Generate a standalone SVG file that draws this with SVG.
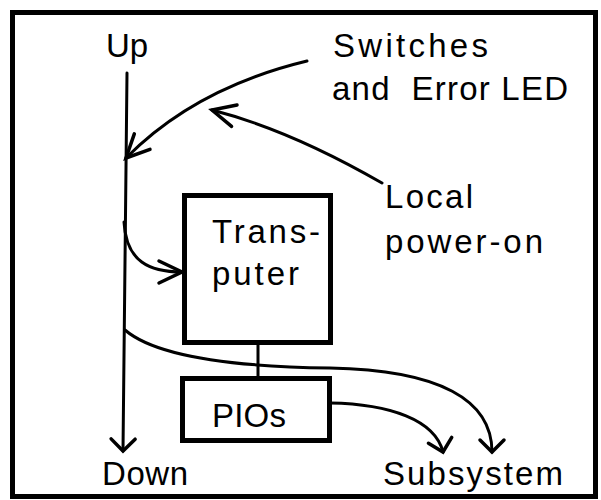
<svg xmlns="http://www.w3.org/2000/svg" width="601" height="500" viewBox="0 0 601 500">
<style>
.t{font-family:"Liberation Sans",Arial,Helvetica,sans-serif;font-size:33px;fill:#000}
.box{fill:none;stroke:#000;stroke-width:5}
.c{fill:none;stroke:#000;stroke-width:3;stroke-linecap:round}
</style>
<defs>
<marker id="big" markerUnits="userSpaceOnUse" markerWidth="40" markerHeight="40" refX="0" refY="0" viewBox="-30 -20 40 40" orient="auto" overflow="visible">
<path d="M -23 -11 L 0 0 L -23 11" fill="none" stroke="#000" stroke-width="3.5" stroke-linecap="round" stroke-linejoin="miter"/>
</marker>
<marker id="small" markerUnits="userSpaceOnUse" markerWidth="40" markerHeight="40" refX="0" refY="0" viewBox="-30 -20 40 40" orient="auto" overflow="visible">
<path d="M -12 -12 L 0 0 L -12 12" fill="none" stroke="#000" stroke-width="3.5" stroke-linecap="round" stroke-linejoin="miter"/>
</marker>
</defs>
<rect x="12.5" y="12.5" width="583" height="484" fill="#fff" stroke="#000" stroke-width="5"/>
<g id="connectors">
<path class="c" d="M 127 73 L 123 451" marker-end="url(#small)"/>
<path class="c" d="M 307 61 Q 195 88 126 158" marker-end="url(#big)"/>
<path class="c" d="M 382 183 Q 290 130 212 110" marker-end="url(#big)"/>
<path class="c" d="M 124 222 C 126 262 150 272 182 272" marker-end="url(#big)"/>
<path class="c" d="M 125 330 C 160 360 250 367 330 368 C 440 370 492 400 492 452" marker-end="url(#small)"/>
<path class="c" d="M 330 403 C 390 404 435 420 443 452" marker-end="url(#small)"/>
<path class="c" d="M 258 343 L 258 378" stroke-width="2.5"/>
</g>
<g id="up"><text class="t" x="106" y="57">Up</text></g>
<g id="down"><text class="t" x="102" y="485" textLength="86" lengthAdjust="spacing">Down</text></g>
<g id="switches">
<text class="t" x="333" y="57" textLength="155" lengthAdjust="spacing">Switches</text>
<text class="t" x="332" y="100" textLength="236" lengthAdjust="spacing" xml:space="preserve" style="white-space:pre">and  Error LED</text>
</g>
<g id="local">
<text class="t" x="385" y="208" textLength="88" lengthAdjust="spacing">Local</text>
<text class="t" x="385" y="253" textLength="158" lengthAdjust="spacing">power-on</text>
</g>
<g id="transputer">
<rect class="box" x="184.5" y="195.5" width="146" height="147"/>
<text class="t" x="212" y="243" textLength="108" lengthAdjust="spacing">Trans-</text>
<text class="t" x="212" y="285" textLength="87" lengthAdjust="spacing">puter</text>
</g>
<g id="pios">
<rect class="box" x="182.5" y="378.5" width="147" height="62"/>
<text class="t" x="212" y="427" textLength="74" lengthAdjust="spacing">PIOs</text>
</g>
<g id="subsystem"><text class="t" x="383" y="485" textLength="180" lengthAdjust="spacing">Subsystem</text></g>
</svg>
